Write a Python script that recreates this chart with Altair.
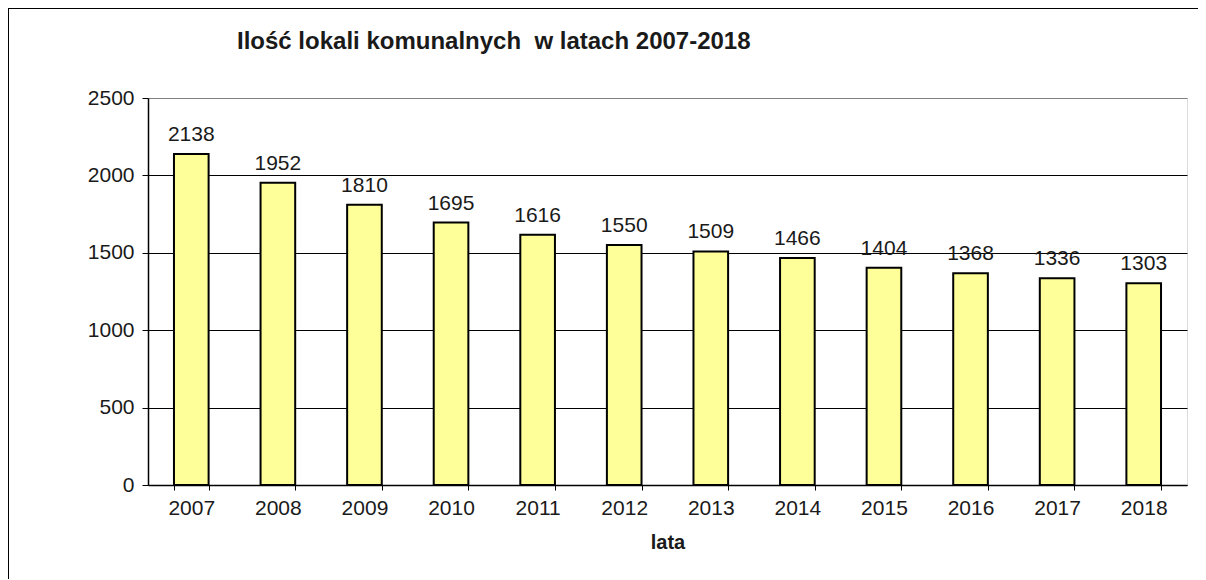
import altair as alt
import pandas as pd

years = ["2007", "2008", "2009", "2010", "2011", "2012", "2013", "2014", "2015", "2016", "2017", "2018"]
counts = [2138, 1952, 1810, 1695, 1616, 1550, 1509, 1466, 1404, 1368, 1336, 1303]
y_ticks = [0, 500, 1000, 1500, 2000, 2500]

df = pd.DataFrame({"rok": years, "ilosc": counts})
FONT = "Liberation Sans"
W, H = 1039, 387
FS = 21

x = alt.X("rok:N", sort=years, title="lata",
          scale=alt.Scale(paddingInner=0.6, paddingOuter=0.3),
          axis=alt.Axis(labelAngle=0, tickBand="extent", domainColor="black", domainWidth=1.5,
                        tickColor="black", tickSize=5, labelPadding=7, labelFontSize=FS,
                        labelColor="#1a1a1a", titleFontSize=20, titleFontWeight="bold",
                        titleColor="#1a1a1a", titlePadding=14, labelFont=FONT, titleFont=FONT))
y = alt.Y("ilosc:Q", title=None,
          scale=alt.Scale(domain=[0, 2500], nice=False),
          axis=alt.Axis(values=y_ticks, format="d", domainColor="black", domainWidth=1.5,
                        tickColor="black", tickSize=6, labelPadding=8, labelFontSize=FS,
                        labelColor="#1a1a1a", labelFont=FONT, grid=True, gridWidth=1.2,
                        gridColor={"condition": {"test": "datum.value === 2500", "value": "#808080"},
                                   "value": "black"}))

base = alt.Chart(df)
bars = base.mark_bar(fill="#FFFF99", stroke="black", strokeWidth=2).encode(x=x, y=y)
labels = base.mark_text(baseline="bottom", dy=-9, fontSize=FS, font=FONT, color="#1a1a1a").encode(
    x=alt.X("rok:N", sort=years), y="ilosc:Q", text="ilosc:Q")

one = pd.DataFrame({"a": [0]})
frame_top = alt.Chart(one).mark_rule(stroke="black", strokeWidth=2).encode(
    x=alt.value(-140), x2=alt.value(W + 80), y=alt.value(-90))
frame_left = alt.Chart(one).mark_rule(stroke="black", strokeWidth=2).encode(
    x=alt.value(-140), y=alt.value(-90), y2=alt.value(H + 140))

chart = alt.layer(bars, labels, frame_top, frame_left).properties(
    width=W, height=H,
    title=alt.TitleParams("Ilość lokali komunalnych \u00a0w latach 2007-2018", anchor="start", dx=89,
                          fontSize=24, fontWeight="bold", font=FONT, color="#1a1a1a",
                          baseline="alphabetic", offset=-66, frame="group"),
    autosize=alt.AutoSizeParams(type="none"),
    padding={"left": 140, "top": 90, "right": 11, "bottom": 94},
).configure_view(stroke="#808080", strokeWidth=2.5, fill="#C0C0C0").configure(background="white")

chart.save("out.html", embed_options={"renderer": "svg", "actions": False})
